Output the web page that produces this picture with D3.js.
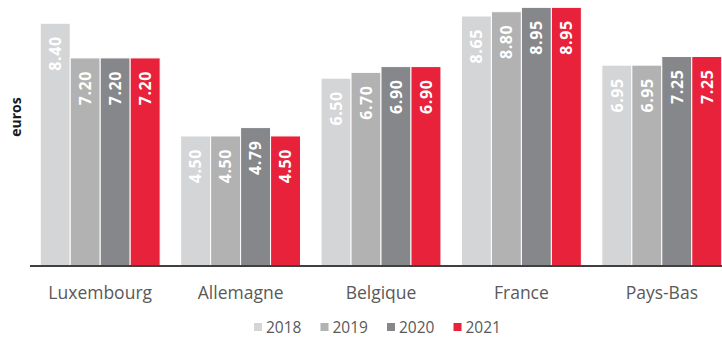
<!DOCTYPE html>
<html>
<head>
<meta charset="utf-8">
<script src="https://cdn.jsdelivr.net/npm/d3@7"></script>
<style>
  html, body { margin: 0; padding: 0; background: #fff; }
  svg { display: block; }
</style>
</head>
<body>
<svg id="chart" width="722" height="337"></svg>
<script>
// Prix en euros par pays et par année
const countries = ["Luxembourg", "Allemagne", "Belgique", "France", "Pays-Bas"];
const years = ["2018", "2019", "2020", "2021"];
const values2018 = [8.40, 4.50, 6.50, 8.65, 6.95];
const values2019 = [7.20, 4.50, 6.70, 8.80, 6.95];
const values2020 = [7.20, 4.79, 6.90, 8.95, 7.25];
const values2021 = [7.20, 4.50, 6.90, 8.95, 7.25];
const seriesValues = [values2018, values2019, values2020, values2021];
const yearColors = ["#d4d5d7", "#b2b2b2", "#86878b", "#e8223a"];

const svg = d3.select("#chart");
const baseY = 266;

const x0 = d3.scaleBand()
  .domain(countries)
  .range([30, 732])
  .paddingInner(0.146)
  .paddingOuter(0.073);

const x1 = d3.scaleBand()
  .domain(years)
  .range([0, x0.bandwidth()]);

const y = d3.scaleLinear()
  .domain([0, 9.2])
  .range([baseY, baseY - 9.2 * 28.9]);

const rows = countries.map((c, i) => ({
  country: c,
  bars: years.map((yr, j) => ({ year: yr, value: seriesValues[j][i], color: yearColors[j] }))
}));

const groups = svg.append("g").selectAll("g")
  .data(rows)
  .join("g")
  .attr("transform", d => `translate(${x0(d.country)},0)`);

groups.selectAll("rect")
  .data(d => d.bars)
  .join("rect")
  .attr("x", d => x1(d.year))
  .attr("y", d => y(d.value))
  .attr("width", x1.bandwidth())
  .attr("height", d => y(0) - y(d.value))
  .attr("fill", d => d.color)
  .attr("stroke", "#fff")
  .attr("stroke-width", 1);

// Étiquettes de valeur, verticales, en haut de chaque barre
groups.selectAll("text.val")
  .data(d => d.bars)
  .join("text")
  .attr("class", "val")
  .attr("transform", d => `translate(${x1(d.year) + x1.bandwidth() / 2},${y(d.value) + 13}) rotate(-90)`)
  .attr("text-anchor", "end")
  .attr("dy", "0.36em")
  .attr("fill", "#fff")
  .style("font-family", "'Open Sans', sans-serif")
  .style("font-weight", "700")
  .style("font-size", "16px")
  .style("letter-spacing", "0.6px")
  .text(d => d.value.toFixed(2));

// Axe des catégories
const xAxis = d3.axisBottom(x0).tickSize(0).tickPadding(21);
const axisG = svg.append("g")
  .attr("transform", `translate(0,${baseY})`)
  .call(xAxis);
axisG.select(".domain").remove();
axisG.selectAll("text")
  .attr("fill", "#595959")
  .style("font-family", "'Open Sans', sans-serif")
  .style("font-size", "17.5px");

svg.append("line")
  .attr("x1", 30).attr("x2", 722)
  .attr("y1", baseY).attr("y2", baseY)
  .attr("stroke", "#404040")
  .attr("stroke-width", 2);

// Titre de l'axe vertical
svg.append("text")
  .attr("transform", "translate(16,117) rotate(-90)")
  .attr("text-anchor", "middle")
  .attr("dy", "0.35em")
  .attr("fill", "#1a1a1a")
  .style("font-family", "'Open Sans', sans-serif")
  .style("font-weight", "700")
  .style("font-size", "14px")
  .text("euros");

// Légende
const legend = svg.append("g")
  .selectAll("g")
  .data(years)
  .join("g")
  .attr("transform", (d, i) => `translate(${254 + i * 66.5},327)`);

legend.append("rect")
  .attr("x", 0).attr("y", -4)
  .attr("width", 8).attr("height", 8)
  .attr("fill", (d, i) => yearColors[i]);

legend.append("text")
  .attr("x", 12)
  .attr("dy", "0.36em")
  .attr("fill", "#595959")
  .style("font-family", "'Open Sans', sans-serif")
  .style("font-size", "15.5px")
  .text(d => d);
</script>
</body>
</html>
